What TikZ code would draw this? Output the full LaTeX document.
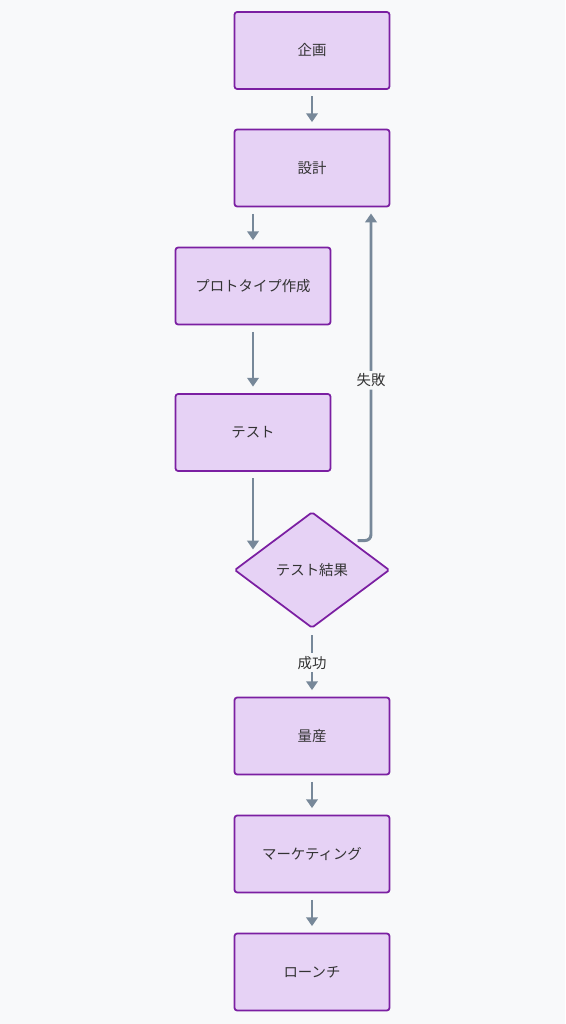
\documentclass[tikz,border=0pt]{standalone}
\usepackage{fontspec}
\newfontfamily\cjk{Noto Sans CJK JP}
\usetikzlibrary{shapes.geometric,arrows.meta}
\definecolor{bgcol}{HTML}{F8F9FA}
\definecolor{boxfill}{HTML}{E6D2F5}
\definecolor{boxline}{HTML}{7B1FA2}
\definecolor{flowcol}{HTML}{778899}
\definecolor{txtcol}{HTML}{333333}
\tikzset{
    box/.style={draw=boxline, fill=boxfill, line width=1pt, rounded corners=1.5pt,
        minimum width=3.1cm, minimum height=1.54cm, text=txtcol, font=\cjk\fontsize{8.2}{10}\selectfont},
    decision/.style={box, diamond, rounded corners=1pt, minimum width=3.1cm, minimum height=2.32cm, inner sep=0pt},
    flow/.style={draw=flowcol, line width=1.7pt, -{Triangle[width=6.5pt,length=5pt]},
        shorten >=0.13cm, shorten <=0.13cm},
    flowlabel/.style={fill=bgcol, text=txtcol, inner sep=1.5pt, font=\cjk\fontsize{8.2}{10}\selectfont}
}
\begin{document}
\begin{tikzpicture}[x=0.02cm,y=-0.02cm]
    \fill[bgcol] (0,0) rectangle (565,1024);
    \useasboundingbox (0,0) rectangle (565,1024);

    \node[box] (plan)   at (312,50.5) {企画};
    \node[box] (design) at (312,168)  {設計};
    \node[box] (proto)  at (253,286)  {プロトタイプ作成};
    \node[box] (test)   at (253,432.5){テスト};
    \node[decision] (result) at (312,570) {テスト結果};
    \node[box] (mass)   at (312,736)  {量産};
    \node[box] (market) at (312,854)  {マーケティング};
    \node[box] (launch) at (312,972)  {ローンチ};

    \coordinate (back)  at (371,207);
    \coordinate (resin) at (253,556);

    \draw[flow] (plan) -- (design);
    \draw[flow] (design.south -| proto) -- (proto.north);
    \draw[flow] (proto) -- (test);
    \draw[flow] (test.south) -- (resin);
    \draw[flow, rounded corners=0.12cm] (result.north east) -| (back) node[pos=0.74, flowlabel]{失敗};
    \draw[flow] (result.south) -- (mass.north) node[midway, flowlabel]{成功};
    \draw[flow] (mass) -- (market);
    \draw[flow] (market) -- (launch);
\end{tikzpicture}
\end{document}
